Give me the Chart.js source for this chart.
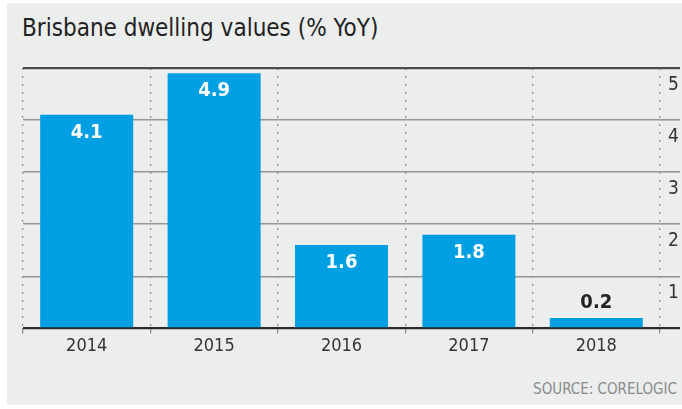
<!DOCTYPE html>
<html>
<head>
<meta charset="utf-8">
<script src="https://cdn.jsdelivr.net/npm/chart.js@4"></script>
<style>
  body { margin: 0; background: #fff; font-family: "Liberation Sans Narrow", "DejaVu Sans Condensed", sans-serif; }
  #panel { position: absolute; left: 7px; top: 3px; width: 675px; height: 402px; background: #eceeed; }
  #title { position: absolute; left: 22px; top: 14px; font-size: 24px; color: #222; white-space: nowrap; }
  #source { position: absolute; right: 5px; top: 380px; font-size: 15px; color: #8a8a8a; white-space: nowrap; }
  #wrap { position: absolute; left: 0; top: 0; width: 682px; height: 409px; }
</style>
</head>
<body>
<div id="panel"></div>
<div id="title">Brisbane dwelling values (% YoY)</div>
<div id="source">SOURCE: CORELOGIC</div>
<div id="wrap"><canvas id="myChart" width="682" height="409"></canvas></div>
<script>
const years = ['2014', '2015', '2016', '2017', '2018'];
const yoyValues = [4.1, 4.9, 1.6, 1.8, 0.2];
const yTicks = [0, 1, 2, 3, 4, 5];

const FONT = '"Liberation Sans Narrow", "DejaVu Sans Condensed", sans-serif';

// writes the number on each bar (inside if tall enough, above otherwise)
const barLabels = {
  id: 'barLabels',
  afterDatasetsDraw(chart) {
    const ctx = chart.ctx;
    const meta = chart.getDatasetMeta(0);
    ctx.save();
    ctx.textAlign = 'center';
    ctx.textBaseline = 'middle';
    ctx.font = 'bold 20px ' + FONT;
    meta.data.forEach((bar, i) => {
      const v = yoyValues[i];
      if (v > 1) {
        ctx.fillStyle = '#ffffff';
        ctx.fillText(v.toFixed(1), bar.x, bar.y + 18);
      } else {
        ctx.fillStyle = '#222222';
        ctx.fillText(v.toFixed(1), bar.x, bar.y - 15);
      }
    });
    ctx.restore();
  }
};

const ctx = document.getElementById('myChart').getContext('2d');
const myChart = new Chart(ctx, {
  type: 'bar',
  data: {
    labels: years,
    datasets: [{
      data: yoyValues,
      backgroundColor: '#009ee2',
      borderWidth: 0,
      categoryPercentage: 1,
      barPercentage: 0.73
    }]
  },
  options: {
    responsive: false,
    animation: false,
    layout: { padding: { left: 23, top: 68, right: 0, bottom: 50 } },
    plugins: {
      legend: { display: false },
      tooltip: { enabled: false }
    },
    scales: {
      x: {
        offset: true,
        grid: {
          offset: true,
          color: '#8f8f8f',
          lineWidth: 1.3,
          drawTicks: true,
          tickLength: 5
        },
        border: { display: false, dash: [2, 6] },
        ticks: {
          color: '#333',
          padding: 2,
          font: { family: FONT, size: 18 }
        }
      },
      y: {
        position: 'right',
        min: 0,
        max: 5,
        afterBuildTicks: (scale) => { scale.ticks = yTicks.map(v => ({ value: v })); },
        afterFit: (scale) => { scale.width = 22; },
        grid: {
          color: (c) => c.tick && c.tick.value === 0 ? '#2a2a2a' : (c.tick && c.tick.value === 5 ? '#4a4a4a' : '#959595'),
          lineWidth: (c) => c.tick && (c.tick.value === 0 || c.tick.value === 5) ? 2.2 : 1.6,
          tickLength: 20
        },
        border: { display: false },
        ticks: {
          color: '#333',
          padding: -12,
          labelOffset: 17,
          font: { family: FONT, size: 19 },
          callback: (v) => v === 0 ? '' : v
        }
      }
    }
  },
  plugins: [barLabels]
});
</script>
</body>
</html>
